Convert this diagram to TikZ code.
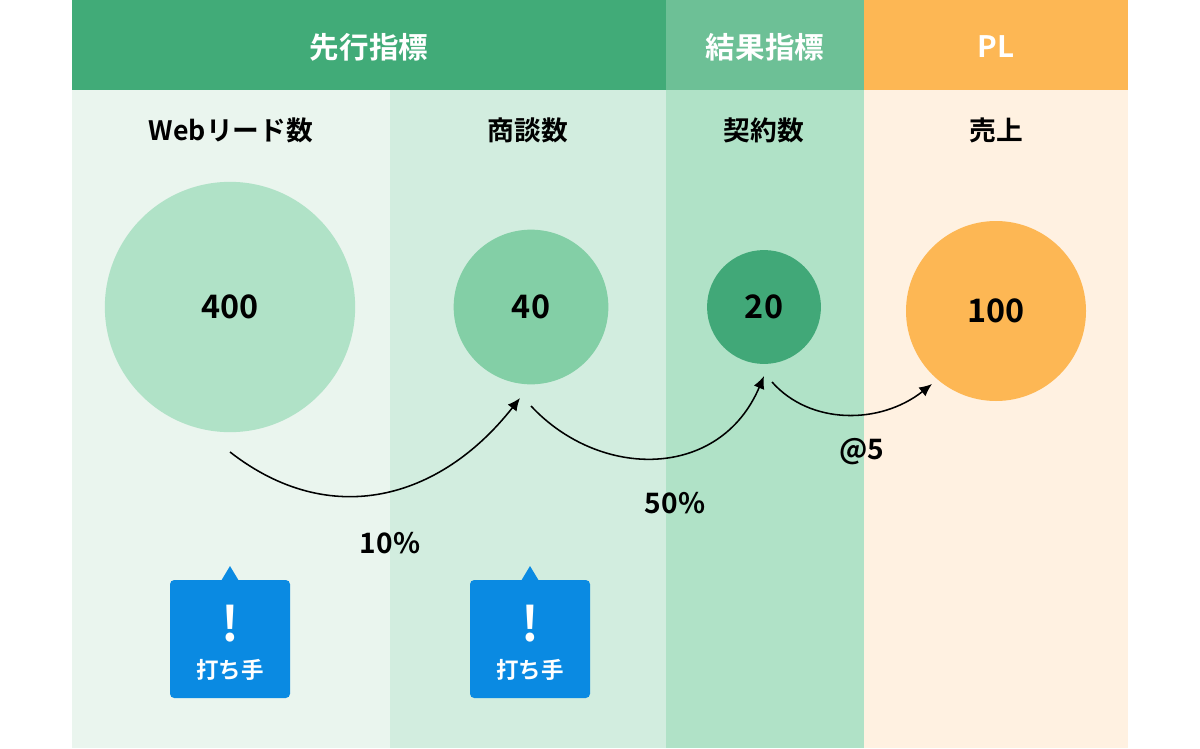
\documentclass[tikz,border=0pt]{standalone}
\usepackage{fontspec}
\setmainfont{Noto Sans CJK JP}[BoldFont={* Bold}]
\usetikzlibrary{positioning,arrows.meta}
\definecolor{hdgreen}{HTML}{41AB78}
\definecolor{hdlight}{HTML}{6DC096}
\definecolor{hdorange}{HTML}{FDB754}
\definecolor{bgA}{HTML}{EAF5EE}
\definecolor{bgB}{HTML}{D2EDDF}
\definecolor{bgC}{HTML}{B0E2C7}
\definecolor{bgD}{HTML}{FFF1E1}
\definecolor{cB}{HTML}{83CFA6}
\definecolor{cC}{HTML}{41A878}
\definecolor{tipblue}{HTML}{0A8AE2}
\begin{document}
\begin{tikzpicture}[x=0.025cm, y=-0.025cm,
  hd/.style={text=white, font=\bfseries\fontsize{21}{24}\selectfont},
  col/.style={font=\bfseries\fontsize{19}{22}\selectfont},
  num/.style={circle, inner sep=0pt, font=\bfseries\fontsize{23}{26}\selectfont},
  rate/.style={font=\bfseries\fontsize{20}{22}\selectfont},
  flow/.style={-{Latex[length=9pt,width=8pt]}, line width=1.1pt},
  tip/.style={fill=tipblue, rounded corners=3pt},
  ]
  \useasboundingbox (0,0) rectangle (1200,748);
  % backgrounds
  \fill[bgA] (72,90) rectangle (390,748);
  \fill[bgB] (390,90) rectangle (666,748);
  \fill[bgC] (666,90) rectangle (864,748);
  \fill[bgD] (864,90) rectangle (1128,748);
  \fill[hdgreen] (72,0) rectangle (666,90);
  \fill[hdlight] (666,0) rectangle (864,90);
  \fill[hdorange] (864,0) rectangle (1128,90);
  % headers
  \node[hd] (lead) at (369,47) {先行指標};
  \node[hd] (result) at (765,47) {結果指標};
  \node[hd] (pl) at (996,47) {PL};
  \node[col] (web) at (231,130) {Webリード数};
  \node[col] (meet) at (528,130) {商談数};
  \node[col] (deal) at (764,130) {契約数};
  \node[col] (sales) at (996,130) {売上};
  % circles
  \node[num, fill=bgC, minimum size=178pt] (c400) at (230,307) {400};
  \node[num, fill=cB, minimum size=110pt] (c40) at (531,307) {40};
  \node[num, fill=cC, minimum size=81pt] (c20) at (764,307) {20};
  \node[num, fill=hdorange, minimum size=128pt] (c100) at (996,311) {100};
  % arrows
  \coordinate (a1) at (230,452);
  \coordinate (b1) at (520,398);
  \coordinate (a2) at (531,406);
  \coordinate (b2) at (764,376);
  \coordinate (a3) at (772,382);
  \coordinate (b3) at (932,384);
  \draw[flow] (a1) .. controls (330,530) and (440,500) .. (b1);
  \draw[flow] (a2) .. controls (600,480) and (720,480) .. (b2);
  \draw[flow] (a3) .. controls (810,425) and (880,425) .. (b3);
  \node[rate] (r10) at (390,543) {10\%};
  \node[rate] (r50) at (675,503) {50\%};
  \node[rate] (r5) at (862,452) {@5};
  % tips
  \foreach \x/\n in {230/t1, 530/t2}{
    \fill[tip] (\x-60,580) rectangle (\x+60,698);
    \fill[tipblue] (\x-9,581) -- (\x,566) -- (\x+9,581) -- cycle;
    \node[text=white, font=\bfseries\fontsize{34}{34}\selectfont] (\n m) at (\x,624) {!};
    \node[text=white, font=\bfseries\fontsize{16}{18}\selectfont] (\n) at (\x,670) {打ち手};
  }
\end{tikzpicture}
\end{document}
